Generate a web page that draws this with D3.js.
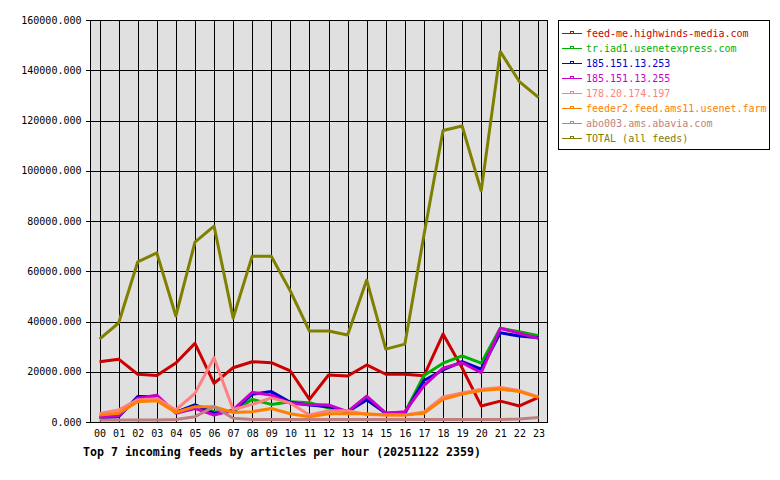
<!DOCTYPE html>
<html><head><meta charset="utf-8">
<script src="https://cdn.jsdelivr.net/npm/d3@7"></script>
<style>body{margin:0;background:#fff}svg{display:block}</style>
</head><body>
<script>
const hours = ["00","01","02","03","04","05","06","07","08","09","10","11","12","13","14","15","16","17","18","19","20","21","22","23"];
const yTicks = [0,20000,40000,60000,80000,100000,120000,140000,160000];
const seriesNames = ["feed-me.highwinds-media.com","tr.iad1.usenetexpress.com","185.151.13.253","185.151.13.255","178.20.174.197","feeder2.feed.ams11.usenet.farm","abo003.ams.abavia.com","TOTAL (all feeds)"];
const seriesColors = ["#cc0000","#00b000","#0000cc","#cc00cc","#ff8080","#ff8000","#c08080","#808000"];
const feedMe   = [24000,25000,19000,18500,23500,31300,15400,21600,24000,23600,20300,9000,18700,18300,22700,19000,19000,18400,35000,21500,6400,8300,6400,9800];
const trIad1   = [2000,2500,9800,10000,3800,6800,4100,4200,9000,7000,8100,7700,5500,4000,9400,3500,3800,18500,23400,26300,23400,37300,35900,34300];
const ip253    = [1700,2100,10100,10100,3800,6800,3400,4400,11000,12100,7800,6800,6100,4100,8800,3500,3500,16500,20700,24000,21000,35500,34200,33500];
const ip255    = [2000,2500,9500,10700,3500,5400,2800,4800,11800,10700,7400,7000,6800,4100,10300,3500,4100,14500,21400,23600,19600,37300,35300,33300];
const ip197    = [3400,4800,8800,9400,4800,11400,25600,5000,7000,9600,7500,2800,4500,4500,3000,2800,2800,4000,10000,11600,13000,13700,12500,10000];
const feeder2  = [2800,3500,8100,8500,3800,6100,6100,3800,4100,5400,3300,2100,3300,3300,3300,2800,2800,3500,9000,11100,12500,13100,12100,9800];
const abo003   = [800,800,800,800,1000,2100,6100,1500,1000,1000,1000,1000,1000,1000,1000,1000,1000,1000,1000,1000,1000,1000,1200,1800];
const total    = [33000,39400,63700,67300,42200,71600,78000,41400,66000,66000,52100,36200,36200,34600,56500,29000,31000,74400,116000,117800,92000,147400,135500,129200];
const seriesValues = [feedMe,trIad1,ip253,ip255,ip197,feeder2,abo003,total];
const title = "Top 7 incoming feeds by articles per hour (20251122 2359)";

const W = 780, H = 480;
const L = 90, R = 548, T = 20, B = 422;
const mono = "'DejaVu Sans Mono', 'Liberation Mono', monospace";

const svg = d3.select("body").append("svg").attr("width", W).attr("height", H);

const x = d3.scalePoint().domain(hours).range([L, R]).padding(0.5);
const y = d3.scaleLinear().domain([0, 160000]).range([B, T]);

// plot background
svg.append("rect").attr("x", L).attr("y", T).attr("width", R - L).attr("height", B - T)
  .attr("fill", "#e0e0e0");

// grid
const grid = svg.append("g").attr("shape-rendering", "crispEdges").attr("stroke", "#000").attr("stroke-width", 1);
grid.selectAll("line.v").data(hours).join("line")
  .attr("x1", d => Math.round(x(d)) + 0.5).attr("x2", d => Math.round(x(d)) + 0.5)
  .attr("y1", T).attr("y2", B);
grid.selectAll("line.h").data(yTicks).join("line")
  .attr("x1", L).attr("x2", R)
  .attr("y1", d => Math.round(y(d)) + 0.5).attr("y2", d => Math.round(y(d)) + 0.5);

// y axis
const yAxis = d3.axisLeft(y).tickValues(yTicks).tickFormat(d3.format(".3f")).tickSize(5).tickPadding(4);
const ya = svg.append("g").attr("transform", `translate(${L + 0.5},0)`).call(yAxis);
ya.select(".domain").remove();
ya.selectAll("line").attr("stroke", "#000").attr("shape-rendering", "crispEdges");
ya.selectAll("text").attr("font-family", mono).attr("font-size", 10).attr("fill", "#000");

// x axis
const xAxis = d3.axisBottom(x).tickSize(0).tickPadding(8);
const xa = svg.append("g").attr("transform", `translate(0,${B})`).call(xAxis);
xa.select(".domain").remove();
xa.selectAll("text").attr("font-family", mono).attr("font-size", 10).attr("fill", "#000");

// lines
const line = d3.line().x((d, i) => x(hours[i])).y(d => y(d));
svg.append("g").selectAll("path").data(seriesValues).join("path")
  .attr("d", d => line(d))
  .attr("fill", "none")
  .attr("stroke", (d, i) => seriesColors[i])
  .attr("stroke-width", 3)
  .attr("stroke-linejoin", "round");

// frame
svg.append("rect").attr("x", L + 0.5).attr("y", T + 0.5).attr("width", R - L - 1).attr("height", B - T)
  .attr("fill", "none").attr("stroke", "#000").attr("shape-rendering", "crispEdges");

// legend
const lg = svg.append("g");
lg.append("rect").attr("x", 558.5).attr("y", 20.5).attr("width", 211).attr("height", 129)
  .attr("fill", "#fff").attr("stroke", "#000").attr("shape-rendering", "crispEdges");
const items = lg.selectAll("g.item").data(seriesNames).join("g")
  .attr("transform", (d, i) => `translate(0,${33.5 + i * 15})`);
items.append("line").attr("x1", 562).attr("x2", 582).attr("y1", 0).attr("y2", 0)
  .attr("stroke", (d, i) => seriesColors[i]).attr("stroke-width", 1).attr("shape-rendering", "crispEdges");
items.append("rect").attr("x", 570.5).attr("y", -2.5).attr("width", 3).attr("height", 2)
  .attr("fill", "none").attr("stroke", (d, i) => seriesColors[i]).attr("stroke-width", 1)
  .attr("shape-rendering", "crispEdges");
items.append("text").attr("x", 586).attr("y", 0).attr("dy", "0.35em")
  .attr("font-family", mono).attr("font-size", 10)
  .attr("fill", (d, i) => seriesColors[i]).text(d => d);

// title
svg.append("text").attr("x", 83).attr("y", 456)
  .attr("font-family", mono).attr("font-size", 11.6).attr("font-weight", "bold")
  .attr("fill", "#000").text(title);
</script>
</body></html>
